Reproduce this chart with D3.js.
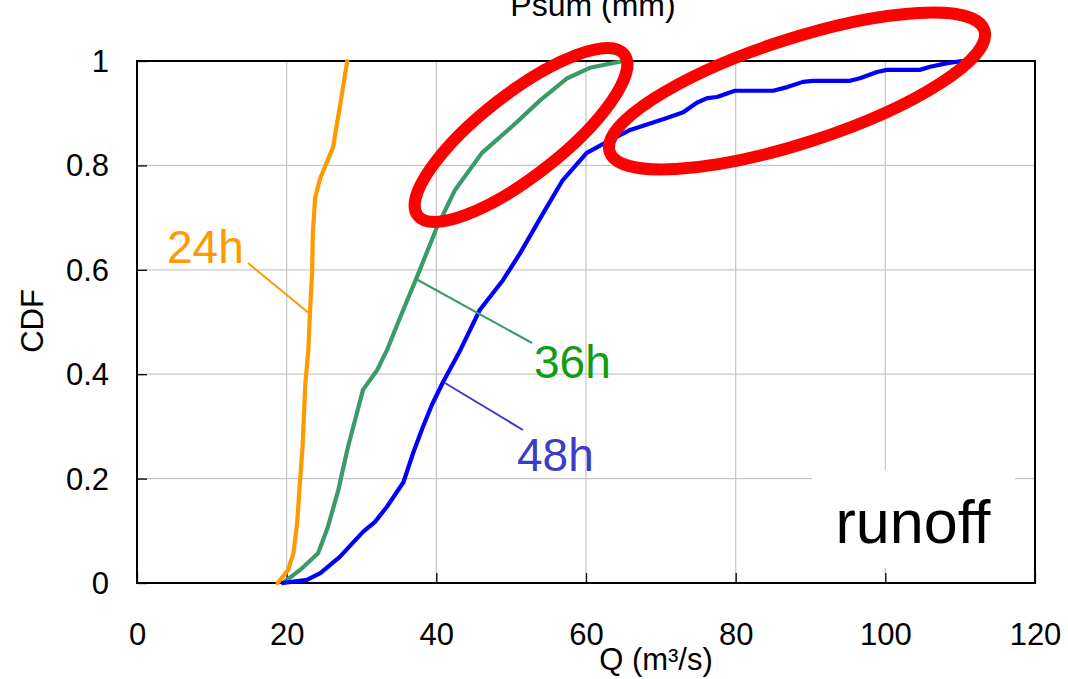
<!DOCTYPE html>
<html>
<head>
<meta charset="utf-8">
<script src="https://cdn.jsdelivr.net/npm/d3@7"></script>
<style>
  html, body { margin: 0; padding: 0; background: #fff; }
  svg { display: block; font-family: "Liberation Sans", Arial, sans-serif; }
</style>
</head>
<body>
<svg id="chart" width="1068" height="679"></svg>
<script>
// Runoff CDF curves for three accumulation windows
const q24   = [18.8, 20.2, 20.9, 21.4, 21.7, 22.1, 22.5, 22.9, 23.1, 23.4, 23.5, 23.8, 24.5, 26.2, 27.1, 28.1];
const cdf24 = [0, 0.025, 0.057, 0.115, 0.178, 0.255, 0.383, 0.446, 0.515, 0.594, 0.670, 0.738, 0.776, 0.835, 0.912, 1.0];

const q36   = [19.5, 21.8, 24.2, 25.5, 26.9, 28.2, 30.2, 32.1, 33.4, 35.2, 37.4, 40.1, 42.5, 46.1, 50.3, 53.9, 57.5, 60.5, 65.0];
const cdf36 = [0, 0.025, 0.057, 0.107, 0.178, 0.261, 0.370, 0.408, 0.446, 0.510, 0.586, 0.682, 0.753, 0.824, 0.877, 0.925, 0.967, 0.987, 1.0];

const q48   = [19.5, 22.7, 24.5, 27.1, 30.2, 31.8, 33.4, 35.6, 36.9, 38.2, 39.4, 40.9, 43.2, 45.8, 48.9, 51.2, 54.3, 56.9, 60.1, 62.8, 65.9, 70.8, 73.0, 74.8, 76.2, 77.5, 79.9, 85.0, 86.9, 89.0, 90.3, 95.3, 96.6, 98.9, 100.2, 104.6, 106.0, 108.3, 110.3];
const cdf48 = [0, 0.006, 0.019, 0.050, 0.098, 0.117, 0.146, 0.193, 0.249, 0.299, 0.341, 0.385, 0.446, 0.523, 0.580, 0.632, 0.709, 0.772, 0.824, 0.845, 0.868, 0.891, 0.902, 0.920, 0.929, 0.931, 0.943, 0.943, 0.950, 0.960, 0.962, 0.962, 0.967, 0.979, 0.983, 0.983, 0.989, 0.996, 1.0];

const xTicks = [0, 20, 40, 60, 80, 100, 120];
const yTicks = [0, 0.2, 0.4, 0.6, 0.8, 1];
const yTickLabels = ["0", "0.2", "0.4", "0.6", "0.8", "1"];

const seriesNames = ["24h", "36h", "48h"];

const svg = d3.select("#chart");
const plotL = 137, plotR = 1035, plotT = 61, plotB = 583;

const x = d3.scaleLinear().domain([0, 120]).range([plotL, plotR]);
const y = d3.scaleLinear().domain([0, 1]).range([plotB, plotT]);

// grid
const grid = svg.append("g");
grid.selectAll("line.vx").data(xTicks.slice(1, -1)).join("line")
  .attr("x1", d => x(d)).attr("x2", d => x(d))
  .attr("y1", plotT).attr("y2", plotB)
  .attr("stroke", "#c8c8c8").attr("stroke-width", 1.3);
grid.selectAll("line.hy").data(yTicks.slice(1, -1)).join("line")
  .attr("y1", d => y(d)).attr("y2", d => y(d))
  .attr("x1", plotL).attr("x2", plotR)
  .attr("stroke", "#c8c8c8").attr("stroke-width", 1.3);

// panel label box
svg.append("rect").attr("x", 812).attr("y", 470).attr("width", 203).attr("height", 98).attr("fill", "#fff");
svg.append("text").attr("x", 913).attr("y", 543).attr("text-anchor", "middle")
  .attr("font-size", 61).attr("fill", "#000").text("runoff");

// axes with inward ticks
const xAxis = d3.axisBottom(x).tickValues(xTicks).tickSize(-10).tickPadding(0).tickFormat(d3.format("d"));
const gx = svg.append("g").attr("transform", `translate(0,${plotB})`).call(xAxis);
gx.select(".domain").remove();
gx.selectAll(".tick line").attr("stroke", "#000").attr("stroke-width", 1.3);
gx.selectAll(".tick text").attr("font-size", 31).attr("font-family", "Liberation Sans, Arial, sans-serif")
  .attr("fill", "#000").attr("dy", null).attr("y", 62);

const yAxis = d3.axisLeft(y).tickValues(yTicks).tickSize(-10).tickPadding(0).tickFormat((d, i) => yTickLabels[i]);
const gy = svg.append("g").attr("transform", `translate(${plotL},0)`).call(yAxis);
gy.select(".domain").remove();
gy.selectAll(".tick line").attr("stroke", "#000").attr("stroke-width", 1.3);
gy.selectAll(".tick text").attr("font-size", 31).attr("font-family", "Liberation Sans, Arial, sans-serif")
  .attr("fill", "#000").attr("x", -28).attr("dy", "0.34em");

// frame
svg.append("rect").attr("x", plotL).attr("y", plotT).attr("width", plotR - plotL).attr("height", plotB - plotT)
  .attr("fill", "none").attr("stroke", "#000").attr("stroke-width", 2);

// curves
const line = d3.line().x(d => x(d[0])).y(d => y(d[1]));
const series = [
  { name: seriesNames[0], q: q24, p: cdf24, color: "#ff9900" },
  { name: seriesNames[1], q: q36, p: cdf36, color: "#3a9a68" },
  { name: seriesNames[2], q: q48, p: cdf48, color: "#0000ff" }
];
series.forEach(s => {
  svg.append("path").datum(d3.zip(s.q, s.p)).attr("d", line)
    .attr("fill", "none").attr("stroke", s.color).attr("stroke-width", 4.2)
    .attr("stroke-linejoin", "round").attr("stroke-linecap", "round");
});

// curve labels with leader lines
const labels = [
  { text: seriesNames[0], color: "#ff9900", lead: "#ff9900", tx: 167, ty: 263, x1: 248, y1: 263, x2: 310, y2: 314 },
  { text: seriesNames[1], color: "#129c12", lead: "#3a9a68", tx: 534, ty: 378, x1: 532, y1: 343, x2: 416, y2: 279 },
  { text: seriesNames[2], color: "#3c3cc8", lead: "#3c3cc8", tx: 517, ty: 471, x1: 523, y1: 430, x2: 445, y2: 383 }
];
labels.forEach(l => {
  svg.append("line").attr("x1", l.x1).attr("y1", l.y1).attr("x2", l.x2).attr("y2", l.y2)
    .attr("stroke", l.lead).attr("stroke-width", 2);
  svg.append("text").attr("x", l.tx).attr("y", l.ty).attr("font-size", 46)
    .attr("fill", l.color).text(l.text);
});

// axis titles
svg.append("text").attr("x", 593).attr("y", 16).attr("text-anchor", "middle")
  .attr("font-size", 32).attr("fill", "#000").text("Psum (mm)");
svg.append("text").attr("x", 656).attr("y", 670).attr("text-anchor", "middle")
  .attr("font-size", 31).attr("fill", "#000").text("Q (m³/s)");
svg.append("text").attr("transform", "translate(43,321) rotate(-90)").attr("text-anchor", "middle")
  .attr("font-size", 31).attr("fill", "#000").text("CDF");

// highlight rings
const rings = [
  { cx: 521, cy: 135, rx: 131, ry: 41, angle: -38 },
  { cx: 797, cy: 91, rx: 197, ry: 52, angle: -18 }
];
svg.selectAll("ellipse.ring").data(rings).join("ellipse")
  .attr("cx", d => d.cx).attr("cy", d => d.cy).attr("rx", d => d.rx).attr("ry", d => d.ry)
  .attr("transform", d => `rotate(${d.angle},${d.cx},${d.cy})`)
  .attr("fill", "none").attr("stroke", "#ff0000").attr("stroke-width", 12);
</script>
</body>
</html>
